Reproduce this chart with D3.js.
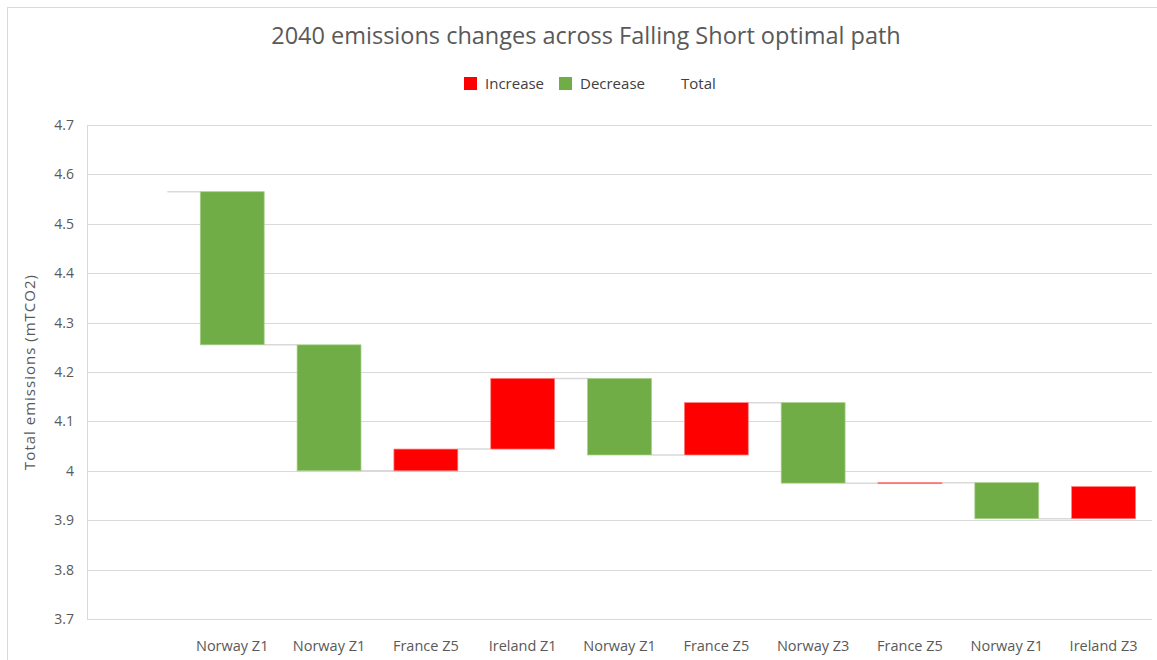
<!DOCTYPE html>
<html>
<head>
<meta charset="utf-8">
<script src="https://cdn.jsdelivr.net/npm/d3@7"></script>
<style>
	body { margin: 0; background: #fff; }
	svg { display: block; font-family: "Open Sans", "Noto Sans", sans-serif; }
	.grid line { stroke: #d9d9d9; stroke-width: 1; }
	.tick-label { fill: #595959; font-size: 14px; }
	.x-label { font-size: 14.5px; }
	.connector { stroke: #d9d9d9; stroke-width: 1.5; }
</style>
</head>
<body>
<div id="chart"></div>
<script>
// First slot is the starting total (drawn without fill), the rest are changes
const categories = ["", "Norway Z1", "Norway Z1", "France Z5", "Ireland Z1", "Norway Z1", "France Z5", "Norway Z3", "France Z5", "Norway Z1", "Ireland Z3"];
const startTotal = 4.565;
const changes = [-0.310, -0.255, 0.044, 0.143, -0.155, 0.106, -0.163, 0.001, -0.073, 0.065];
const yTicks = [3.7, 3.8, 3.9, 4, 4.1, 4.2, 4.3, 4.4, 4.5, 4.6, 4.7];
const legendItems = [
	{label: "Increase", colour: "#ff0000"},
	{label: "Decrease", colour: "#70ad47"},
	{label: "Total", colour: null},
];

const width = 1157;
const height = 660;
const margin = {top: 125, right: 5, bottom: 41, left: 87};

// Build waterfall steps from the running total
let running = startTotal;
const steps = [{name: categories[0], start: startTotal, end: startTotal, type: "total"}];
changes.forEach((c, i) => {
	const start = running;
	running = +(running + c).toFixed(4);
	steps.push({name: categories[i + 1], start: start, end: running, type: c >= 0 ? "increase" : "decrease"});
});

const svg = d3.select("#chart")
	.append("svg")
	.attr("width", width)
	.attr("height", height);

// Chart frame
svg.append("rect")
	.attr("x", 7.5)
	.attr("y", 7.5)
	.attr("width", width + 10)
	.attr("height", height + 10)
	.attr("fill", "none")
	.attr("stroke", "#d9d9d9");

const x = d3.scaleBand()
	.domain(d3.range(steps.length))
	.range([margin.left, width - margin.right])
	.paddingInner(0.34)
	.paddingOuter(0.17);

const y = d3.scaleLinear()
	.domain([3.7, 4.7])
	.range([height - margin.bottom, margin.top]);

// Gridlines
svg.append("g")
	.attr("class", "grid")
	.selectAll("line")
	.data(yTicks)
	.enter()
	.append("line")
	.attr("x1", margin.left)
	.attr("x2", width - margin.right)
	.attr("y1", (d) => Math.round(y(d)) + 0.5)
	.attr("y2", (d) => Math.round(y(d)) + 0.5);

// Vertical axis line
svg.append("line")
	.attr("x1", margin.left + 0.5)
	.attr("x2", margin.left + 0.5)
	.attr("y1", y(4.7))
	.attr("y2", y(3.7))
	.attr("stroke", "#d9d9d9");

// Y tick labels
svg.selectAll(".y-label")
	.data(yTicks)
	.enter()
	.append("text")
	.attr("class", "tick-label")
	.attr("x", 74)
	.attr("y", (d) => y(d))
	.attr("dy", "0.35em")
	.attr("text-anchor", "end")
	.text((d) => d3.format("~g")(d));

// Connectors between bars
svg.selectAll(".connector")
	.data(steps.slice(0, -1))
	.enter()
	.append("line")
	.attr("class", "connector")
	.attr("x1", (d, i) => x(i) + x.bandwidth())
	.attr("x2", (d, i) => x(i + 1))
	.attr("y1", (d) => y(d.end))
	.attr("y2", (d) => y(d.end));

// Bars
const fillFor = {increase: "#ff0000", decrease: "#70ad47", total: "none"};
const strokeFor = {increase: "#ff7f7f", decrease: "#a9d08e", total: "none"};
svg.selectAll(".bar")
	.data(steps)
	.enter()
	.append("rect")
	.attr("class", "bar")
	.attr("x", (d, i) => x(i))
	.attr("width", x.bandwidth())
	.attr("y", (d) => y(Math.max(d.start, d.end)))
	.attr("height", (d) => Math.max(1, Math.abs(y(d.start) - y(d.end))))
	.attr("fill", (d) => fillFor[d.type])
	.attr("stroke", (d) => strokeFor[d.type])
	.attr("stroke-width", 0.75);

// X category labels
svg.selectAll(".x-label")
	.data(steps)
	.enter()
	.append("text")
	.attr("class", "tick-label x-label")
	.attr("x", (d, i) => x(i) + x.bandwidth() / 2)
	.attr("y", 651)
	.attr("text-anchor", "middle")
	.text((d) => d.name);

// Y axis title
svg.append("text")
	.attr("transform", `translate(35, ${(y(3.7) + y(4.7)) / 2}) rotate(-90)`)
	.attr("text-anchor", "middle")
	.attr("fill", "#595959")
	.attr("font-size", 15)
	.attr("letter-spacing", 1)
	.text("Total emissions (mTCO2)");

// Title
svg.append("text")
	.attr("x", 586)
	.attr("y", 44)
	.attr("text-anchor", "middle")
	.attr("fill", "#595959")
	.attr("font-size", 23.5)
	.text("2040 emissions changes across Falling Short optimal path");

// Legend
const legendX = [464, 559, 660];
const legend = svg.selectAll(".legend")
	.data(legendItems)
	.enter()
	.append("g")
	.attr("class", "legend")
	.attr("transform", (d, i) => `translate(${legendX[i]}, 77)`);

legend.filter((d) => d.colour)
	.append("rect")
	.attr("width", 13)
	.attr("height", 13)
	.attr("fill", (d) => d.colour);

legend.append("text")
	.attr("x", 21)
	.attr("y", 7)
	.attr("dy", "0.35em")
	.attr("fill", "#404040")
	.attr("font-size", 15)
	.text((d) => d.label);
</script>
</body>
</html>
